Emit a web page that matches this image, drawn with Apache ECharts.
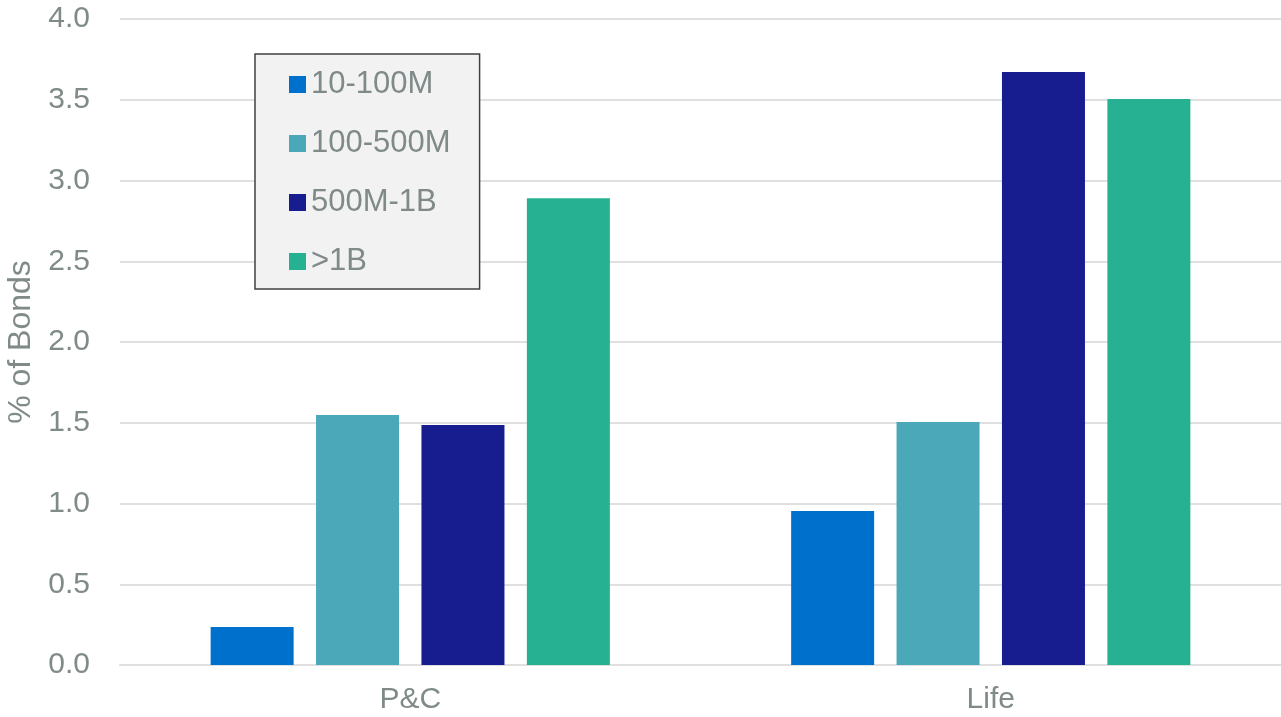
<!DOCTYPE html>
<html>
<head>
<meta charset="utf-8">
<script src="https://cdn.jsdelivr.net/npm/echarts@6/dist/echarts.min.js"></script>
<style>
html,body{margin:0;padding:0;background:#fff;}
#chart{width:1281px;height:717px;}
</style>
</head>
<body>
<div id="chart"></div>
<script>
const categories = ['P&C', 'Life'];
const seriesNames = ['10-100M', '100-500M', '500M-1B', '>1B'];
const s10_100M = [0.235, 0.953];
const s100_500M = [1.548, 1.505];
const s500M_1B = [1.486, 3.672];
const s1B = [2.89, 3.505];
const yTicks = [0, 0.5, 1.0, 1.5, 2.0, 2.5, 3.0, 3.5, 4.0];

const colors = ['#0070CD', '#4BA8B8', '#171C8F', '#27B193'];
const values = [s10_100M, s100_500M, s500M_1B, s1B];
const textColor = '#7f8a89';
const font = 'Liberation Sans, Arial, sans-serif';

const chart = echarts.init(document.getElementById('chart'));
chart.setOption({
  animation: false,
  grid: { left: 120, right: 0, top: 19, bottom: 52, containLabel: false, outerBoundsMode: 'none' },
  legend: {
    orient: 'vertical',
    left: 255, top: 54,
    padding: [15, 29, 12, 34],
    backgroundColor: '#f2f2f2',
    borderColor: '#404040',
    borderWidth: 1.5,
    itemWidth: 17, itemHeight: 17,
    itemGap: 28,
    icon: 'rect',
    textStyle: { color: textColor, fontSize: 31, fontFamily: font },
    data: seriesNames
  },
  xAxis: {
    type: 'category',
    data: categories,
    axisLine: { show: true, lineStyle: { color: '#e0e0e0', width: 2 } },
    axisTick: { show: false },
    axisLabel: { color: textColor, fontSize: 30, fontFamily: font, margin: 20 }
  },
  yAxis: {
    type: 'value',
    min: 0, max: 4, interval: 0.5,
    name: '% of Bonds',
    nameLocation: 'middle',
    nameGap: 82,
    nameRotate: 90,
    nameTextStyle: { color: textColor, fontSize: 32, fontFamily: font },
    axisLine: { show: false },
    axisTick: { show: false },
    splitLine: { lineStyle: { color: '#e0e0e0', width: 2 } },
    axisLabel: { color: textColor, fontSize: 30, fontFamily: font, margin: 30,
      formatter: v => v.toFixed(1) }
  },
  series: seriesNames.map((n, i) => ({
    name: n,
    type: 'bar',
    data: values[i],
    barWidth: 83,
    barGap: '27%',
    itemStyle: { color: colors[i] }
  }))
});
</script>
</body>
</html>
